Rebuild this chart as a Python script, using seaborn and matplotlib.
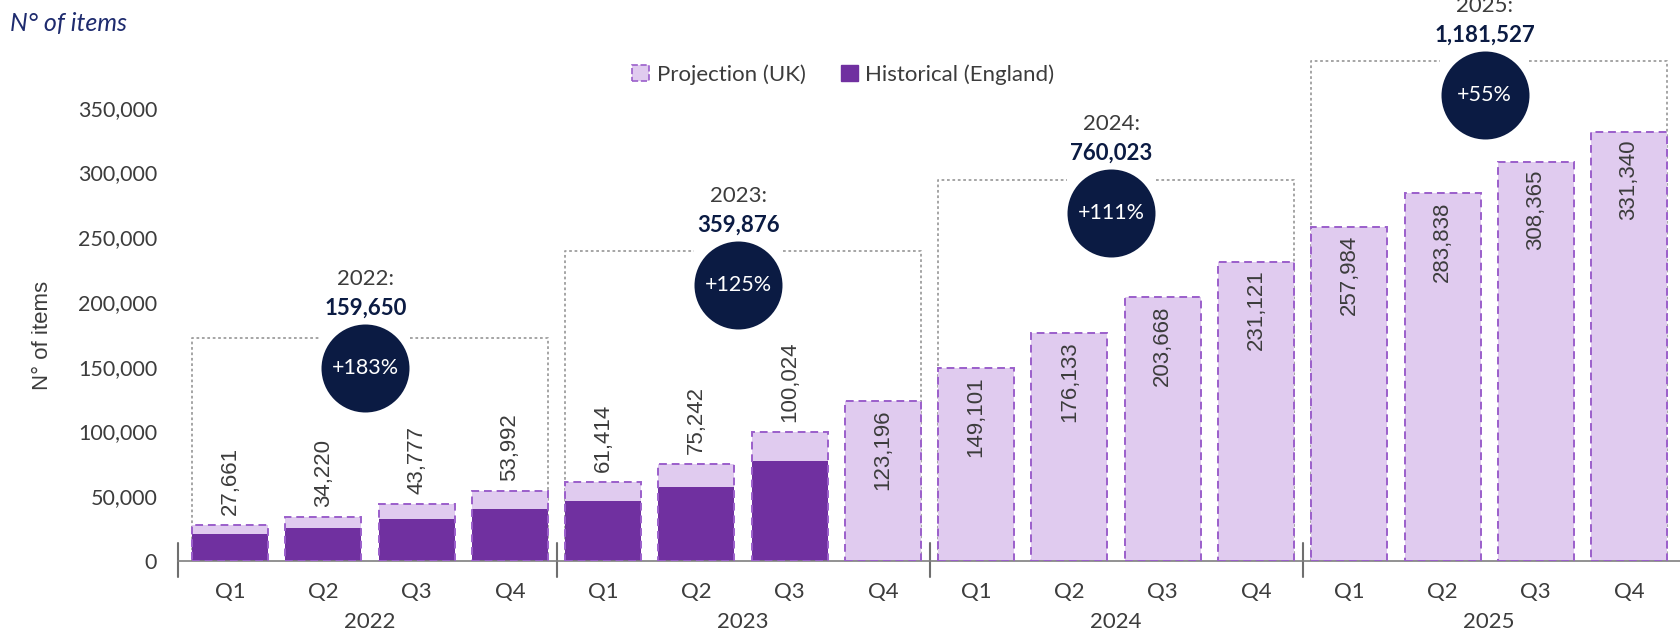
import pandas as pd
import matplotlib
matplotlib.use("Agg")
import matplotlib.pyplot as plt
from matplotlib.patches import Patch
from matplotlib.ticker import FuncFormatter
import seaborn as sns

# values
years = ["2022", "2023", "2024", "2025"]
quarters = ["Q1", "Q2", "Q3", "Q4"]
projection = [27661, 34220, 43777, 53992, 61414, 75242, 100024, 123196,
              149101, 176133, 203668, 231121, 257984, 283838, 308365, 331340]
historical = [20600, 25400, 32600, 40300, 46600, 57000, 77000]
growth = ["+183%", "+125%", "+111%", "+55%"]
box_top = [172000, 239000, 294000, 386000]
badge_y = [149000, 213000, 269000, 360000]

periods = [f"{y} {q}" for y in years for q in quarters]
proj_df = pd.DataFrame({"period": periods, "items": projection})
hist_df = pd.DataFrame({"period": periods[:len(historical)], "items": historical})
totals = proj_df["items"].to_numpy().reshape(len(years), len(quarters)).sum(axis=1)

DARK = "#7030A0"
LIGHT = "#E0CBEF"
EDGE = "#9B5FCB"
NAVY = "#0B1B43"
GREY = "#3C3C3C"

sns.set_style("white")
plt.rcParams["font.family"] = ["Lato", "DejaVu Sans"]

fig = plt.figure(figsize=(16.8, 6.34), dpi=100)
ax = fig.add_axes([0.106, 0.115, 0.894, 0.885])

W = 0.815
sns.barplot(data=proj_df, x="period", y="items", order=periods, color=LIGHT,
            saturation=1, width=W, linewidth=0, ax=ax, zorder=1)
sns.barplot(data=hist_df, x="period", y="items", order=periods, color=DARK,
            saturation=1, width=W, linewidth=0, ax=ax, zorder=2)
# dashed outline of the projection on top
sns.barplot(data=proj_df, x="period", y="items", order=periods, facecolor="none",
            edgecolor=EDGE, linestyle=(0, (4, 2.5)), linewidth=1.4, width=W,
            saturation=1, ax=ax, zorder=3)

ax.set_xlim(-0.5575, 15.546)
ax.set_ylim(0, 433130)
ax.set_xticks(range(len(periods)))
ax.set_xticklabels(quarters * len(years))
ax.set_yticks(range(0, 350001, 50000))
ax.yaxis.set_major_formatter(FuncFormatter(lambda v, p: f"{v:,.0f}"))
ax.set_xlabel("")
ax.set_ylabel("N° of items", fontsize=16, color=GREY, family=["Liberation Sans"], va="center")
ax.yaxis.set_label_coords(-0.0905, 0.403)
ax.tick_params(axis="y", length=0, pad=15, labelsize=15.5, labelcolor=GREY)
ax.tick_params(axis="x", length=0, pad=15, labelsize=16, labelcolor=GREY)
sns.despine(ax=ax, left=True)
ax.spines["bottom"].set_color("#7F7F7F")
ax.spines["bottom"].set_linewidth(1.2)

# year separators and year labels
xt = ax.get_xaxis_transform()
for g in range(len(years)):
    b = ax.get_xlim()[0] if g == 0 else g * 4 - 0.5
    ax.plot([b, b], [-0.0285, 0.032], transform=xt, clip_on=False, color="#6F6F6F", lw=1.5)
    ax.text(g * 4 + 1.5, -0.1087, years[g], transform=xt, ha="center", va="center",
            fontsize=16, color=GREY)

# value labels
for i, v in enumerate(projection):
    if i < len(historical):
        off, va = 7.2, "bottom"
    else:
        off, va = -5.8, "top"
    ax.annotate(f"{v:,}", (i, v), xytext=(0, off), textcoords="offset points",
                rotation=90, ha="center", va=va, fontsize=16, color=GREY,
                family=["Liberation Sans"])

# yearly boxes, totals and growth badges
for g in range(len(years)):
    left = g * 4 - W / 2
    right = g * 4 + 3 + W / 2
    cx = g * 4 + 1.45
    top = box_top[g]
    dot = dict(ls=(0, (1.5, 1.5)), color="#9E9E9E", lw=1.3, zorder=0.5, clip_on=False)
    ax.plot([left, left, cx - 0.48], [0, top, top], **dot)
    ax.plot([cx + 0.48, right, right], [top, top, 0], **dot)
    ax.scatter([cx], [badge_y[g]], s=4014, color=NAVY, linewidths=0, zorder=5)
    ax.text(cx, badge_y[g], growth[g], ha="center", va="center", color="white",
            fontsize=15.5, zorder=6)
    ax.annotate(f"{totals[g]:,}", (cx, badge_y[g]), xytext=(0, 43), textcoords="offset points",
                ha="center", va="center", fontweight="bold", color=NAVY, fontsize=16,
                annotation_clip=False)
    ax.annotate(f"{years[g]}:", (cx, badge_y[g]), xytext=(0, 64), textcoords="offset points",
                ha="center", va="center", color=GREY, fontsize=16, annotation_clip=False)

handles = [Patch(facecolor=LIGHT, edgecolor=EDGE, linestyle="--", linewidth=1.2,
                 label="Projection (UK)"),
           Patch(facecolor=DARK, edgecolor=DARK, label="Historical (England)")]
fig.legend(handles=handles, loc="center", bbox_to_anchor=(0.502, 0.882), ncol=2,
           frameon=False, fontsize=16, labelcolor=GREY, handlelength=0.75,
           handleheight=0.75, handletextpad=0.35, columnspacing=1.6)

fig.text(0.006, 1 - 24 / 634, "N° of items", ha="left", va="center", fontsize=18,
         style="italic", color="#1E2B6E")

fig.savefig("out.png", dpi=100)
